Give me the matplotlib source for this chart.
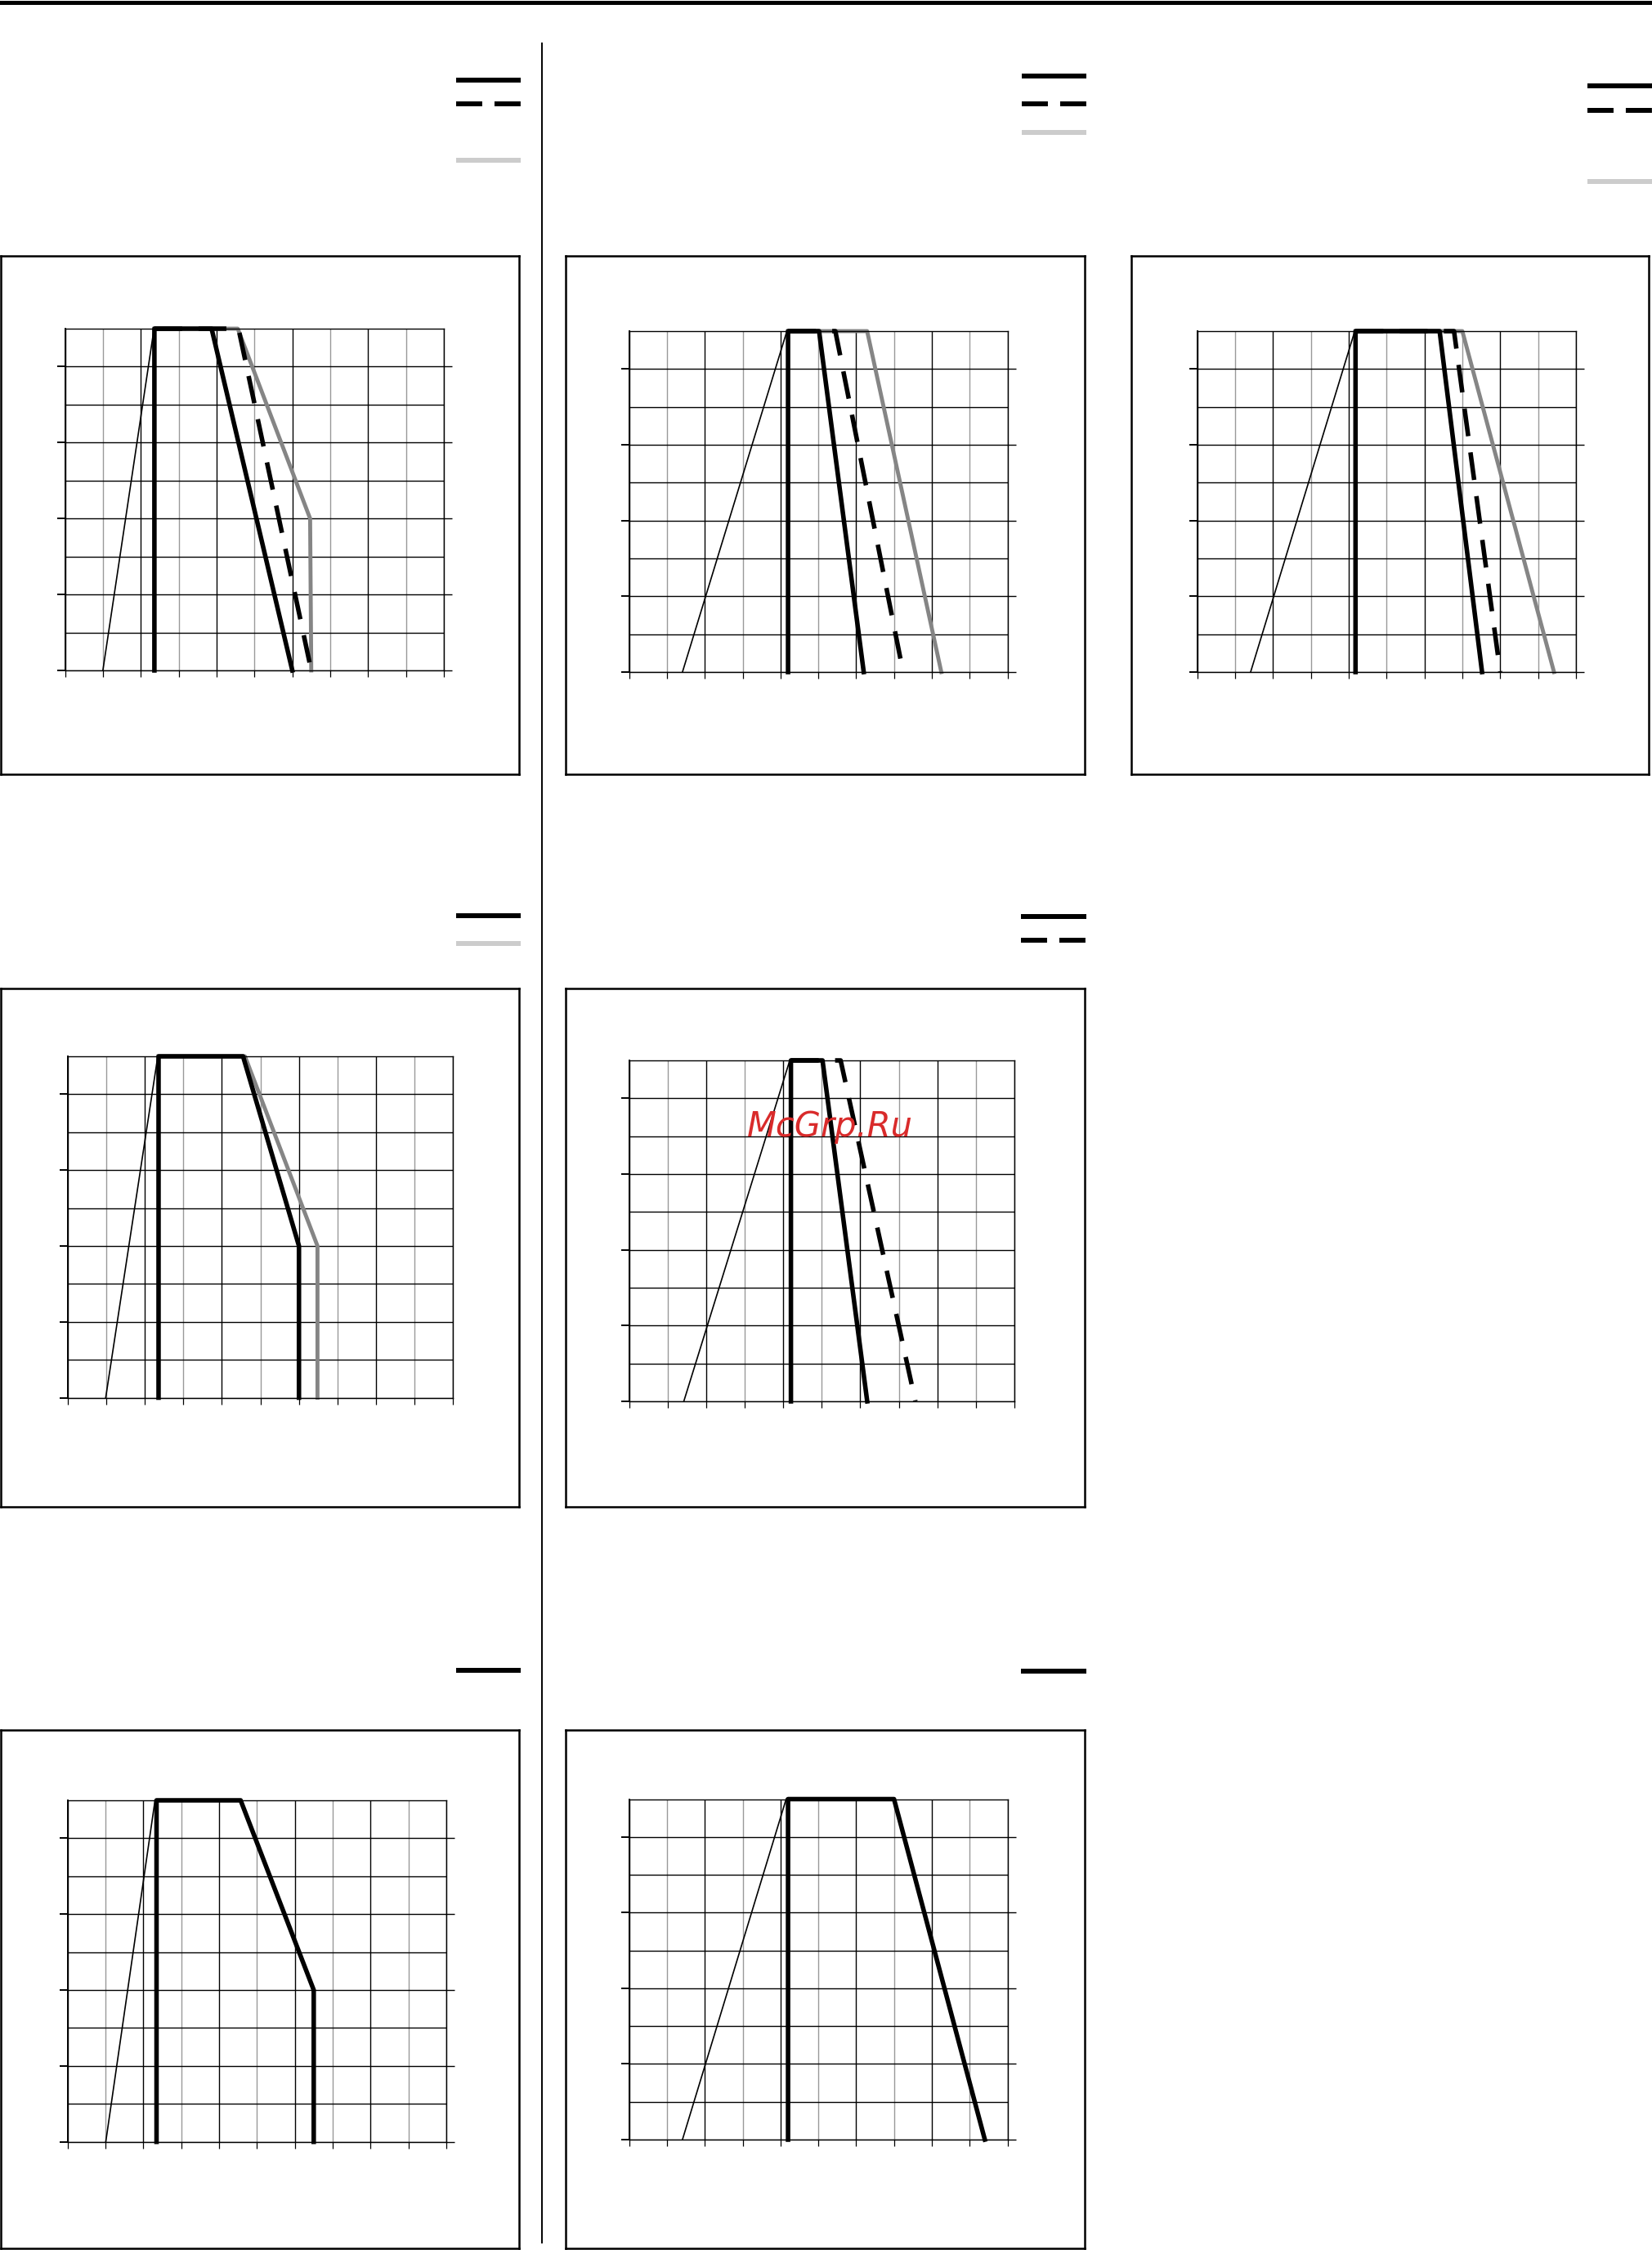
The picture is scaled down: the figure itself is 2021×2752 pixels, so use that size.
import matplotlib.pyplot as plt
import numpy as np
from matplotlib.lines import Line2D

plt.rcParams['lines.scale_dashes'] = False

W, H = 2021, 2752

# curves in grid units (x: 0..10 cells, y: 0..9 half-cells)
a_thin_x = [1.0, 2.35]
a_thin_y = [0, 9]
a_solid_x = [2.36, 2.36, 3.87, 6.0]
a_solid_y = [0, 9, 9, 0]
a_dash_x = [2.36, 4.58, 6.5]
a_dash_y = [9, 9, 0]
a_gray_x = [2.36, 4.56, 6.47, 6.5]
a_gray_y = [9, 9, 4, 0]

b_thin_x = [1.41, 4.17]
b_thin_y = [0, 9]
b_solid_x = [4.2, 4.2, 5.02, 6.2]
b_solid_y = [0, 9, 9, 0]
b_dash_x = [4.2, 5.45, 7.24]
b_dash_y = [9, 9, 0]
b_gray_x = [4.2, 6.29, 8.25]
b_gray_y = [9, 9, 0]

c_thin_x = [1.41, 4.16]
c_thin_y = [0, 9]
c_solid_x = [4.18, 4.18, 6.4, 7.52]
c_solid_y = [0, 9, 9, 0]
c_dash_x = [4.18, 6.78, 8.0]
c_dash_y = [9, 9, 0]
c_gray_x = [4.18, 7.0, 9.42]
c_gray_y = [9, 9, 0]

d_thin_x = [0.99, 2.34]
d_thin_y = [0, 9]
d_solid_x = [2.36, 2.36, 4.55, 6.0, 6.0]
d_solid_y = [0, 9, 9, 4, 0]
d_gray_x = [2.36, 4.6, 6.48, 6.48]
d_gray_y = [9, 9, 4, 0]

e_thin_x = [1.42, 4.17]
e_thin_y = [0, 9]
e_solid_x = [4.2, 4.2, 5.02, 6.18]
e_solid_y = [0, 9, 9, 0]
e_dash_x = [4.2, 5.49, 7.43]
e_dash_y = [9, 9, 0]

f_thin_x = [1.01, 2.31]
f_thin_y = [0, 9]
f_solid_x = [2.35, 2.35, 4.57, 6.5, 6.5]
f_solid_y = [0, 9, 9, 4, 0]

g_thin_x = [1.41, 4.15]
g_thin_y = [0, 9]
g_solid_x = [4.2, 4.2, 7.0, 9.4]
g_solid_y = [0, 9, 9, 0]

watermark = 'McGrp.Ru'

GRAY = '#858585'
STYLE = {
    'thin': dict(color='black', lw=1.2, zorder=5),
    'solid': dict(color='black', lw=4.0, zorder=4),
    'dash': dict(color='black', lw=4.0, dashes=(24.5, 14.4), zorder=3),
    'gray': dict(color=GRAY, lw=3.5, zorder=2),
}
KEY = {
    'solid': dict(color='black', lw=4.3),
    'dash': dict(color='black', lw=4.3, dashes=(23, 10.8)),
    'gray': dict(color='#cccccc', lw=4.3),
}

# page layout in pixels: frame box, plot area, legend keys
panels = [
    dict(box=(1, 313, 635, 947), area=(79.5, 402, 543, 820), ext=True,
         keys=[('solid', 98), ('dash', 127), ('gray', 196)], kx=(558, 637),
         series=[(a_gray_x, a_gray_y, 'gray'), (a_dash_x, a_dash_y, 'dash'),
                 (a_solid_x, a_solid_y, 'solid'), (a_thin_x, a_thin_y, 'thin')]),
    dict(box=(692, 313, 1327, 947), area=(769.6, 405, 1232.6, 822), ext=True,
         keys=[('solid', 93), ('dash', 127), ('gray', 162)], kx=(1250, 1329),
         series=[(b_gray_x, b_gray_y, 'gray'), (b_dash_x, b_dash_y, 'dash'),
                 (b_solid_x, b_solid_y, 'solid'), (b_thin_x, b_thin_y, 'thin')]),
    dict(box=(1384, 313, 2017, 947), area=(1464.6, 405, 1928, 822), ext=True,
         keys=[('solid', 105), ('dash', 135), ('gray', 222)], kx=(1942, 2021),
         series=[(c_gray_x, c_gray_y, 'gray'), (c_dash_x, c_dash_y, 'dash'),
                 (c_solid_x, c_solid_y, 'solid'), (c_thin_x, c_thin_y, 'thin')]),
    dict(box=(1, 1209, 635, 1843), area=(82.6, 1292, 554.5, 1709.5), ext=False,
         keys=[('solid', 1120), ('gray', 1154)], kx=(558, 637),
         series=[(d_gray_x, d_gray_y, 'gray'),
                 (d_solid_x, d_solid_y, 'solid'), (d_thin_x, d_thin_y, 'thin')]),
    dict(box=(692, 1209, 1327, 1843), area=(769.6, 1297, 1241, 1714), ext=False,
         keys=[('solid', 1121), ('dash', 1150)], kx=(1249, 1329),
         series=[(e_dash_x, e_dash_y, 'dash'),
                 (e_solid_x, e_solid_y, 'solid'), (e_thin_x, e_thin_y, 'thin')]),
    dict(box=(1, 2116, 635, 2750), area=(82.6, 2202, 546, 2619.7), ext=True,
         keys=[('solid', 2043)], kx=(558, 637),
         series=[(f_solid_x, f_solid_y, 'solid'), (f_thin_x, f_thin_y, 'thin')]),
    dict(box=(692, 2116, 1327, 2750), area=(769.6, 2200.5, 1232.6, 2617), ext=True,
         keys=[('solid', 2044)], kx=(1249, 1329),
         series=[(g_solid_x, g_solid_y, 'solid'), (g_thin_x, g_thin_y, 'thin')]),
]


def rect(l, t, r, b):
    return [l / W, 1 - b / H, (r - l) / W, (b - t) / H]


fig = plt.figure(figsize=(W / 100, H / 100), dpi=100)

for p in panels:
    frame = fig.add_axes(rect(*p['box']))
    frame.set_xticks([])
    frame.set_yticks([])
    frame.patch.set_alpha(0)
    for s in frame.spines.values():
        s.set_linewidth(1.8)

    ax = fig.add_axes(rect(*p['area']))
    ax.patch.set_alpha(0)
    ax.set_xlim(0, 10)
    ax.set_ylim(0, 9)
    ax.set_xticks(np.arange(0, 11))
    ax.set_yticks(np.arange(0, 9, 2))
    ax.set_yticks(np.arange(1, 9, 2), minor=True)
    ax.set_xticklabels([])
    ax.set_yticklabels([])
    ax.grid(axis='x', color='black', lw=1.0)
    ax.grid(axis='y', which='both', color='black', lw=1.0)
    for i, gl in enumerate(ax.xaxis.get_gridlines()):
        if i % 2:
            gl.set_color('#999999')
    ax.tick_params(axis='x', direction='out', length=6, width=0.9)
    ax.tick_params(axis='y', which='major', direction='out', length=7.2,
                   width=1.4, right=p['ext'])
    ax.tick_params(axis='y', which='minor', length=0)
    for t in ax.yaxis.get_major_ticks():
        t.tick2line.set_markeredgewidth(1.0)
    for side in ['top', 'right', 'bottom']:
        ax.spines[side].set_linewidth(1.0)
    ax.spines['left'].set_linewidth(1.4)
    ax.set_axisbelow(True)

    for x, y, st in p['series']:
        ax.plot(x, y, clip_on=False, **STYLE[st])

    for st, ky in p['keys']:
        fig.add_artist(Line2D([p['kx'][0] / W, p['kx'][1] / W], [1 - ky / H, 1 - ky / H],
                              transform=fig.transFigure, solid_capstyle='butt',
                              dash_capstyle='butt', **KEY[st]))

# page rule and column divider
fig.add_artist(Line2D([0, 1], [1 - 2.5 / H, 1 - 2.5 / H], transform=fig.transFigure,
                      color='black', lw=3.6))
fig.add_artist(Line2D([663 / W, 663 / W], [1 - 53 / H, 1 - 2743 / H],
                      transform=fig.transFigure, color='black', lw=1.4))

fig.text(1015 / W, 1 - 1378 / H, watermark, color='#d92b2b', fontsize=30,
         style='italic', ha='center', va='center')

fig.savefig('out.png', dpi=100)
